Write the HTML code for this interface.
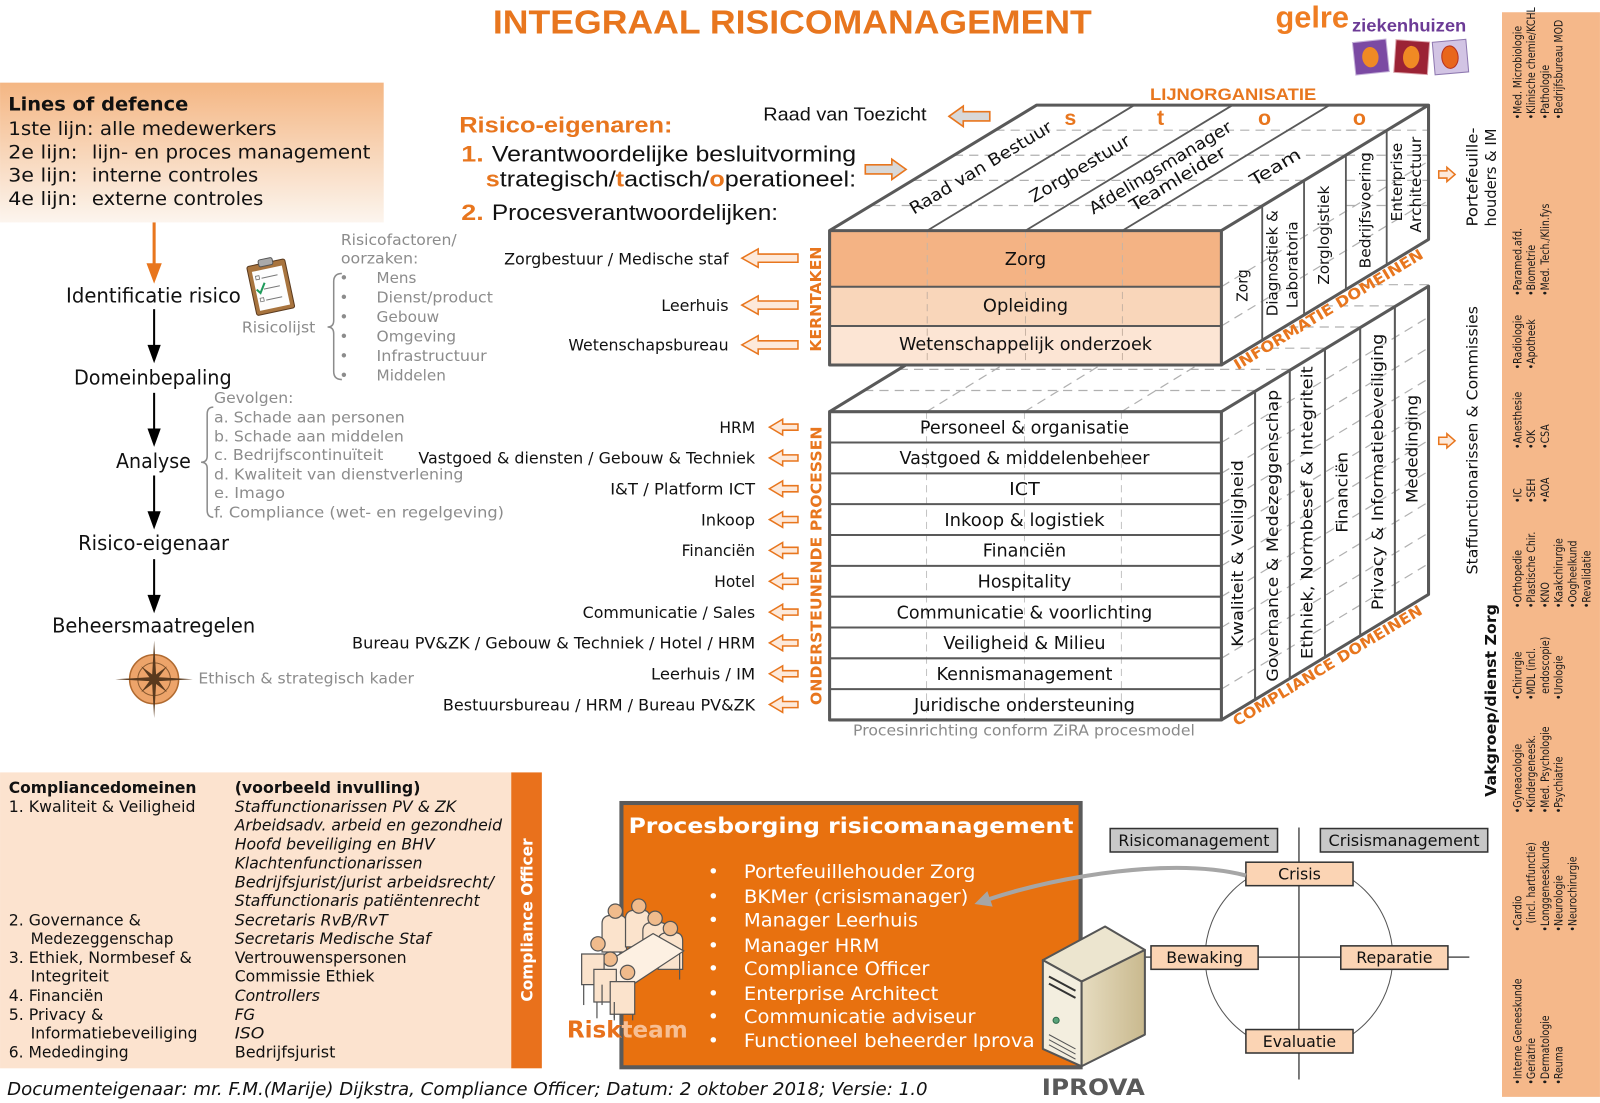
<!DOCTYPE html>
<html><head><meta charset="utf-8">
<style>
html,body{margin:0;padding:0;background:#fff;}
svg{display:block;}
.v{font-family:"DejaVu Sans","Liberation Sans",sans-serif;}
.n{font-family:"Liberation Sans Narrow","Liberation Sans",sans-serif;}
.ls{font-family:"Liberation Sans","DejaVu Sans",sans-serif;}
</style></head><body>
<svg width="1600" height="1103" viewBox="0 0 1568 1081" xmlns="http://www.w3.org/2000/svg">
<defs>
<linearGradient id="lod" x1="0" y1="0" x2="0" y2="1"><stop offset="0" stop-color="#f4b683"/><stop offset="1" stop-color="#fcf5ee"/></linearGradient>
<linearGradient id="srv" x1="0" y1="0" x2="1" y2="0"><stop offset="0" stop-color="#e6dcc0"/><stop offset="1" stop-color="#c9b98e"/></linearGradient>
<clipPath id="boxclip"><rect x="609" y="787" width="450" height="259"/></clipPath>
</defs>

<!-- Title -->
<text x="483" y="33" class="n" font-weight="bold" font-size="33" fill="#e8761e" textLength="587" lengthAdjust="spacingAndGlyphs">INTEGRAAL RISICOMANAGEMENT</text>

<!-- Logo -->
<text x="1250" y="27" class="n" font-weight="bold" font-size="30" fill="#ef7d22" textLength="72" lengthAdjust="spacingAndGlyphs">gelre</text>
<text x="1325" y="31" class="n" font-weight="bold" font-size="17" fill="#6c3b96" textLength="112" lengthAdjust="spacingAndGlyphs">ziekenhuizen</text>
<g transform="rotate(-6 1343 56)"><rect x="1327" y="40" width="33" height="32" fill="#7b4aa3" stroke="#c4b0d8"/><ellipse cx="1343" cy="56" rx="8" ry="10" fill="#f08a24"/></g>
<g transform="rotate(4 1383 56)"><rect x="1367" y="40" width="33" height="32" fill="#9b2335" stroke="#d9a0a8"/><ellipse cx="1383" cy="56" rx="8" ry="11" fill="#f08a24"/></g>
<g transform="rotate(-5 1421 56)"><rect x="1405" y="40" width="33" height="32" fill="#d2c4e4" stroke="#8e78b0"/><ellipse cx="1421" cy="56" rx="8" ry="11" fill="#e8661c" stroke="#b8321c"/></g>

<!-- Lines of defence -->
<rect x="0" y="81" width="376" height="137" fill="url(#lod)"/>
<g class="v" font-size="18.5" fill="#111">
<text x="8" y="108.5" font-weight="bold" textLength="176.5" lengthAdjust="spacingAndGlyphs">Lines of defence</text>
<text x="8" y="132.3" textLength="263" lengthAdjust="spacingAndGlyphs">1ste lijn: alle medewerkers</text>
<text x="8" y="155.2" textLength="68" lengthAdjust="spacingAndGlyphs">2e lijn:</text>
<text x="90" y="155.2" textLength="273" lengthAdjust="spacingAndGlyphs">lijn- en proces management</text>
<text x="8" y="178" textLength="68" lengthAdjust="spacingAndGlyphs">3e lijn:</text>
<text x="90" y="178" textLength="163" lengthAdjust="spacingAndGlyphs">interne controles</text>
<text x="8" y="201" textLength="68" lengthAdjust="spacingAndGlyphs">4e lijn:</text>
<text x="90" y="201" textLength="168" lengthAdjust="spacingAndGlyphs">externe controles</text>
</g>

<!-- Flow arrows -->
<line x1="151" y1="218" x2="151" y2="262" stroke="#e8761e" stroke-width="3"/>
<polygon points="143.5,258 158.5,258 151,278" fill="#e8761e"/>
<g stroke="#000" stroke-width="2">
<line x1="151" y1="303" x2="151" y2="340"/><line x1="151" y1="385" x2="151" y2="422"/>
<line x1="151" y1="466" x2="151" y2="503"/><line x1="151" y1="548" x2="151" y2="585"/>
</g>
<g fill="#000">
<polygon points="144.5,338 157.5,338 151,356"/><polygon points="144.5,420 157.5,420 151,438"/>
<polygon points="144.5,501 157.5,501 151,519"/><polygon points="144.5,583 157.5,583 151,601"/>
</g>
<g class="v" font-size="20" fill="#111">
<text x="64.7" y="296.5" textLength="171.3" lengthAdjust="spacingAndGlyphs">Identificatie risico</text>
<text x="72.5" y="377" textLength="154.5" lengthAdjust="spacingAndGlyphs">Domeinbepaling</text>
<text x="113.7" y="458.6" textLength="73.3" lengthAdjust="spacingAndGlyphs">Analyse</text>
<text x="76.5" y="539" textLength="148" lengthAdjust="spacingAndGlyphs">Risico-eigenaar</text>
<text x="51" y="620" textLength="199" lengthAdjust="spacingAndGlyphs">Beheersmaatregelen</text>
</g>

<!-- clipboard -->
<g transform="rotate(-12 265 280)">
<rect x="246" y="257" width="38" height="49" rx="2" fill="#a8743e" stroke="#5a3a1e"/>
<rect x="250" y="263" width="30" height="39" fill="#fdfdfd"/>
<rect x="258" y="253" width="14" height="7" rx="2" fill="#aaa" stroke="#555"/>
<g stroke="#777" stroke-width="1"><line x1="258" y1="271" x2="274" y2="271"/><line x1="258" y1="282" x2="274" y2="282"/><line x1="258" y1="293" x2="274" y2="293"/></g>
<g fill="none" stroke="#777" stroke-width="0.8"><rect x="252.5" y="268" width="3.5" height="3.5"/><rect x="252.5" y="290" width="3.5" height="3.5"/></g>
<path d="M251,281 l3,4 l6,-9" stroke="#1e9a5a" stroke-width="2" fill="none"/>
</g>

<!-- Risicofactoren -->
<g class="v" font-size="15" fill="#8c8c8c">
<text x="334" y="240" textLength="113.5" lengthAdjust="spacingAndGlyphs">Risicofactoren/</text>
<text x="334" y="258" textLength="76" lengthAdjust="spacingAndGlyphs">oorzaken:</text>
<text x="237" y="326" textLength="72" lengthAdjust="spacingAndGlyphs">Risicolijst</text>
<g text-anchor="middle"><text x="337" y="277.5">•</text><text x="337" y="296.6">•</text><text x="337" y="315.6">•</text><text x="337" y="334.8">•</text><text x="337" y="353.8">•</text><text x="337" y="373">•</text></g>
<text x="369" y="277.5" textLength="39" lengthAdjust="spacingAndGlyphs">Mens</text>
<text x="369" y="296.6" textLength="114" lengthAdjust="spacingAndGlyphs">Dienst/product</text>
<text x="369" y="315.6" textLength="61.4" lengthAdjust="spacingAndGlyphs">Gebouw</text>
<text x="369" y="334.8" textLength="78" lengthAdjust="spacingAndGlyphs">Omgeving</text>
<text x="369" y="353.8" textLength="108" lengthAdjust="spacingAndGlyphs">Infrastructuur</text>
<text x="369" y="373" textLength="68" lengthAdjust="spacingAndGlyphs">Middelen</text>
<text x="209.7" y="395" textLength="77.8" lengthAdjust="spacingAndGlyphs">Gevolgen:</text>
<text x="209.7" y="414" textLength="187" lengthAdjust="spacingAndGlyphs">a. Schade aan personen</text>
<text x="209.7" y="432.5" textLength="186" lengthAdjust="spacingAndGlyphs">b. Schade aan middelen</text>
<text x="209.7" y="451" textLength="166" lengthAdjust="spacingAndGlyphs">c. Bedrijfscontinuïteit</text>
<text x="209.7" y="469.7" textLength="244.4" lengthAdjust="spacingAndGlyphs">d. Kwaliteit van dienstverlening</text>
<text x="209.7" y="488.3" textLength="69.6" lengthAdjust="spacingAndGlyphs">e. Imago</text>
<text x="209.7" y="507" textLength="284.2" lengthAdjust="spacingAndGlyphs">f.  Compliance (wet- en regelgeving)</text>
<text x="194.4" y="670" textLength="211.3" lengthAdjust="spacingAndGlyphs">Ethisch &amp; strategisch kader</text>
</g>
<g fill="none" stroke="#8c8c8c" stroke-width="1.5">
<path d="M335,268 Q327,268 327,276 L327,314 Q327,320.5 321,320.5 Q327,320.5 327,327 L327,364 Q327,372 335,372"/>
<path d="M209,399 Q203,399 203,406 L203,447 Q203,453 197,453 Q203,453 203,459 L203,500 Q203,507 209,507"/>
</g>

<!-- Compass -->
<circle cx="151" cy="665.7" r="24" fill="#eda46a" stroke="#b06a30" stroke-width="1.5"/>
<circle cx="151" cy="665.7" r="16" fill="none" stroke="#8a5a30" stroke-width="1"/>
<polygon fill="#5a3a1e" points="151,627.7 152.9,661.1 163.7,653 155.6,663.8 189,665.7 155.6,667.6 163.7,678.4 152.9,670.3 151,703.7 149.1,670.3 138.3,678.4 146.4,667.6 113,665.7 146.4,663.8 138.3,653 149.1,661.1"/>

<!-- Risico-eigenaren -->
<text x="450" y="130" class="n" font-weight="bold" font-size="22" fill="#e8761e" textLength="209" lengthAdjust="spacingAndGlyphs">Risico-eigenaren:</text>
<text x="452" y="158.4" class="n" font-weight="bold" font-size="22" fill="#e8761e" textLength="22" lengthAdjust="spacingAndGlyphs">1.</text>
<text x="482" y="158.4" class="n" font-size="22" fill="#111" textLength="357" lengthAdjust="spacingAndGlyphs">Verantwoordelijke besluitvorming</text>
<text x="476" y="183" class="n" font-size="22" fill="#111" textLength="363" lengthAdjust="spacingAndGlyphs"><tspan fill="#e8761e" font-weight="bold">s</tspan>trategisch/<tspan fill="#e8761e" font-weight="bold">t</tspan>actisch/<tspan fill="#e8761e" font-weight="bold">o</tspan>perationeel:</text>
<text x="452" y="215.6" class="n" font-weight="bold" font-size="22" fill="#e8761e" textLength="22" lengthAdjust="spacingAndGlyphs">2.</text>
<text x="482" y="215.6" class="n" font-size="22" fill="#111" textLength="280.5" lengthAdjust="spacingAndGlyphs">Procesverantwoordelijken:</text>
<text x="748" y="118.2" class="n" font-size="18" fill="#111" textLength="160" lengthAdjust="spacingAndGlyphs">Raad van Toezicht</text>
<path d="M0,0 l14,-10 v5.5 h26 v9 h-26 v5.5 z" transform="translate(930,114)" fill="#d8d8d8" stroke="#e8761e" stroke-width="1.6"/>
<path d="M0,0 l-14,-10 v5.5 h-26 v9 h26 v5.5 z" transform="translate(888,166)" fill="#d8d8d8" stroke="#e8761e" stroke-width="1.6"/>

<!-- LIJNORGANISATIE -->
<text x="1127" y="98" class="n" font-weight="bold" font-size="16" fill="#e8761e" textLength="163" lengthAdjust="spacingAndGlyphs">LIJNORGANISATIE</text>

<!-- ===== Lower block top face ===== -->
<polygon points="813,403.5 1197,403.5 1400,279 1016,279" fill="#fff"/>
<g stroke="#b0b0b0" stroke-width="1.2" stroke-dasharray="9,6" fill="none">
<line x1="982.2" y1="299.75" x2="1366.2" y2="299.75"/>
<line x1="948.3" y1="320.5" x2="1332.3" y2="320.5"/>
<line x1="914.5" y1="341.25" x2="1298.5" y2="341.25"/>
<line x1="880.7" y1="362" x2="1264.7" y2="362"/>
<line x1="846.8" y1="382.75" x2="1230.8" y2="382.75"/>
<line x1="908" y1="403.5" x2="1111" y2="279"/>
<line x1="1004" y1="403.5" x2="1207" y2="279"/>
<line x1="1099" y1="403.5" x2="1302" y2="279"/>
<line x1="1016" y1="279" x2="1400" y2="279"/>
</g>
<line x1="813" y1="403.5" x2="1016" y2="279" stroke="#595959" stroke-width="3"/>

<!-- ===== Upper block ===== -->
<polygon points="813,226 1197,226 1400,103 1016,103" fill="#fff"/>
<g stroke="#b0b0b0" stroke-width="1.2" stroke-dasharray="9,6">
<line x1="975.4" y1="127.6" x2="1400" y2="127.6"/>
<line x1="934.8" y1="152.2" x2="1400" y2="152.2"/>
<line x1="894.2" y1="176.8" x2="1400" y2="176.8"/>
<line x1="853.6" y1="201.4" x2="1400" y2="201.4"/>
</g>
<g stroke="#595959" stroke-width="1.8">
<line x1="908.7" y1="226" x2="1111.7" y2="103"/>
<line x1="1005" y1="226" x2="1208" y2="103"/>
<line x1="1100" y1="226" x2="1303" y2="103"/>
</g>
<polygon points="1197,226 1400,103 1400,234.7 1197,357.7" fill="#fff"/>
<g stroke="#b0b0b0" stroke-width="1.2" stroke-dasharray="9,6">
<line x1="1197" y1="281" x2="1400" y2="158"/>
<line x1="1197" y1="319.5" x2="1400" y2="196.5"/>
<line x1="1319" y1="127.6" x2="1400" y2="127.6"/>
<line x1="1319" y1="152.2" x2="1400" y2="152.2"/>
<line x1="1319" y1="176.8" x2="1400" y2="176.8"/>
<line x1="1319" y1="201.4" x2="1400" y2="201.4"/>
</g>
<g stroke="#595959" stroke-width="1.8">
<line x1="1237" y1="201.8" x2="1237" y2="333.5"/>
<line x1="1278" y1="176.9" x2="1278" y2="308.6"/>
<line x1="1319" y1="152" x2="1319" y2="283.8"/>
<line x1="1359" y1="127.8" x2="1359" y2="259.5"/>
</g>
<rect x="813" y="226" width="384" height="55" fill="#f4b384"/>
<rect x="813" y="281" width="384" height="38.5" fill="#f9d6ba"/>
<rect x="813" y="319.5" width="384" height="38.2" fill="#fce5d4"/>
<g stroke="#c8b4a4" stroke-width="1" stroke-dasharray="7,5">
<line x1="908.7" y1="226" x2="908.7" y2="357.7"/><line x1="1005" y1="226" x2="1005" y2="357.7"/><line x1="1100" y1="226" x2="1100" y2="357.7"/>
</g>
<g stroke="#595959" stroke-width="2"><line x1="813" y1="281" x2="1197" y2="281"/><line x1="813" y1="319.5" x2="1197" y2="319.5"/></g>
<g fill="none" stroke="#595959" stroke-width="3" stroke-linejoin="round">
<rect x="813" y="226" width="384" height="131.7"/>
<polyline points="813,226 1016,103 1400,103 1197,226"/>
<polyline points="1400,103 1400,234.7 1197,357.7"/>
</g>
<g class="v" font-size="17.5" fill="#111" text-anchor="middle">
<text x="1005" y="259.7">Zorg</text>
<text x="1005" y="305.4">Opleiding</text>
<text x="1005" y="343" textLength="248" lengthAdjust="spacingAndGlyphs">Wetenschappelijk onderzoek</text>
</g>
<g class="v" font-size="16.5" fill="#111" text-anchor="middle">
<text transform="translate(964,169) rotate(-31.2)" textLength="160" lengthAdjust="spacingAndGlyphs">Raad van Bestuur</text>
<text transform="translate(1061,170) rotate(-31.2)" textLength="112" lengthAdjust="spacingAndGlyphs">Zorgbestuur</text>
<text transform="translate(1140,169) rotate(-31.2)" textLength="160" lengthAdjust="spacingAndGlyphs">Afdelingsmanager</text>
<text transform="translate(1157,180) rotate(-31.2)" textLength="107" lengthAdjust="spacingAndGlyphs">Teamleider</text>
<text transform="translate(1252.6,168.5) rotate(-31.2)" textLength="55" lengthAdjust="spacingAndGlyphs">Team</text>
</g>
<g class="n" font-size="21" font-weight="bold" fill="#e8761e" text-anchor="middle">
<text x="1049" y="122.5">s</text><text x="1137.4" y="122.5">t</text><text x="1239.3" y="122.5">o</text><text x="1332.3" y="122.5">o</text>
</g>
<g class="v" font-size="14.5" fill="#111">
<text transform="translate(1222.6,295.7) rotate(-90)" textLength="31.7" lengthAdjust="spacingAndGlyphs">Zorg</text>
<text transform="translate(1252,310) rotate(-90)" textLength="104" lengthAdjust="spacingAndGlyphs">Diagnostiek &amp;</text>
<text transform="translate(1271.4,302) rotate(-90)" textLength="85" lengthAdjust="spacingAndGlyphs">Laboratoria</text>
<text transform="translate(1302.4,279) rotate(-90)" textLength="97" lengthAdjust="spacingAndGlyphs">Zorglogistiek</text>
<text transform="translate(1343,263) rotate(-90)" textLength="114" lengthAdjust="spacingAndGlyphs">Bedrijfsvoering</text>
<text transform="translate(1374,217) rotate(-90)" textLength="77" lengthAdjust="spacingAndGlyphs">Enterprise</text>
<text transform="translate(1392.5,228) rotate(-90)" textLength="94" lengthAdjust="spacingAndGlyphs">Architectuur</text>
</g>

<!-- ===== Lower block ===== -->
<rect x="813" y="403.5" width="384" height="302.1" fill="#fff"/>
<polygon points="1197,403.5 1400,280.5 1400,582.6 1197,705.6" fill="#fff"/>
<g stroke="#c4c4c4" stroke-width="1" stroke-dasharray="7,5">
<line x1="908" y1="403.5" x2="908" y2="705.6"/><line x1="1004" y1="403.5" x2="1004" y2="705.6"/><line x1="1099" y1="403.5" x2="1099" y2="705.6"/>
</g>
<g stroke="#b0b0b0" stroke-width="1.2" stroke-dasharray="9,6">
<line x1="1197" y1="433.7" x2="1400" y2="310.7"/><line x1="1197" y1="463.9" x2="1400" y2="340.9"/>
<line x1="1197" y1="494.1" x2="1400" y2="371.1"/><line x1="1197" y1="524.3" x2="1400" y2="401.3"/>
<line x1="1197" y1="554.6" x2="1400" y2="431.6"/><line x1="1197" y1="584.8" x2="1400" y2="461.8"/>
<line x1="1197" y1="615" x2="1400" y2="492"/><line x1="1197" y1="645.2" x2="1400" y2="522.2"/>
<line x1="1197" y1="675.4" x2="1400" y2="552.4"/>
</g>
<g stroke="#595959" stroke-width="2">
<line x1="813" y1="433.7" x2="1197" y2="433.7"/><line x1="813" y1="463.9" x2="1197" y2="463.9"/>
<line x1="813" y1="494.1" x2="1197" y2="494.1"/><line x1="813" y1="524.3" x2="1197" y2="524.3"/>
<line x1="813" y1="554.6" x2="1197" y2="554.6"/><line x1="813" y1="584.8" x2="1197" y2="584.8"/>
<line x1="813" y1="615" x2="1197" y2="615"/><line x1="813" y1="645.2" x2="1197" y2="645.2"/>
<line x1="813" y1="675.4" x2="1197" y2="675.4"/>
<line x1="1230" y1="383.5" x2="1230" y2="685.6"/><line x1="1264" y1="362.9" x2="1264" y2="665"/>
<line x1="1298.5" y1="342" x2="1298.5" y2="644.1"/><line x1="1333" y1="321.1" x2="1333" y2="623.2"/>
<line x1="1367" y1="300.5" x2="1367" y2="602.6"/>
</g>
<g fill="none" stroke="#595959" stroke-width="3" stroke-linejoin="round">
<rect x="813" y="403.5" width="384" height="302.1"/>
<polyline points="1197,403.5 1400,280.5 1400,582.6 1197,705.6"/>
</g>
<g class="v" font-size="17" fill="#111" text-anchor="middle">
<text x="1004" y="424.7" textLength="205" lengthAdjust="spacingAndGlyphs">Personeel &amp; organisatie</text>
<text x="1004" y="454.9" textLength="245" lengthAdjust="spacingAndGlyphs">Vastgoed &amp; middelenbeheer</text>
<text x="1004" y="485.1" textLength="30" lengthAdjust="spacingAndGlyphs">ICT</text>
<text x="1004" y="515.3" textLength="157" lengthAdjust="spacingAndGlyphs">Inkoop &amp; logistiek</text>
<text x="1004" y="545.5" textLength="81.7" lengthAdjust="spacingAndGlyphs">Financiën</text>
<text x="1004" y="575.8" textLength="91.8" lengthAdjust="spacingAndGlyphs">Hospitality</text>
<text x="1004" y="606" textLength="250.6" lengthAdjust="spacingAndGlyphs">Communicatie &amp; voorlichting</text>
<text x="1004" y="636.2" textLength="159" lengthAdjust="spacingAndGlyphs">Veiligheid &amp; Milieu</text>
<text x="1004" y="666.4" textLength="172.4" lengthAdjust="spacingAndGlyphs">Kennismanagement</text>
<text x="1004" y="696.6" textLength="216.6" lengthAdjust="spacingAndGlyphs">Juridische ondersteuning</text>
</g>
<g class="v" font-size="15.5" fill="#111">
<text transform="translate(1218.4,634) rotate(-90)" textLength="183" lengthAdjust="spacingAndGlyphs">Kwaliteit &amp; Veiligheid</text>
<text transform="translate(1252.4,668) rotate(-90)" textLength="286" lengthAdjust="spacingAndGlyphs">Governance &amp; Medezeggenschap</text>
<text transform="translate(1286.4,646) rotate(-90)" textLength="287" lengthAdjust="spacingAndGlyphs">Ethhiek, Normbesef &amp; Integriteit</text>
<text transform="translate(1320.4,522) rotate(-90)" textLength="79" lengthAdjust="spacingAndGlyphs">Financiën</text>
<text transform="translate(1355.4,598) rotate(-90)" textLength="271" lengthAdjust="spacingAndGlyphs">Privacy &amp; Informatiebeveiliging</text>
<text transform="translate(1389.4,493) rotate(-90)" textLength="106" lengthAdjust="spacingAndGlyphs">Mededinging</text>
</g>
<g class="v" font-weight="bold" font-size="14.5" fill="#e8761e">
<text transform="translate(1213,363) rotate(-31.2)" textLength="214" lengthAdjust="spacingAndGlyphs">INFORMATIE DOMEINEN</text>
<text transform="translate(1212,712) rotate(-31.2)" textLength="214" lengthAdjust="spacingAndGlyphs">COMPLIANCE DOMEINEN</text>
<text transform="translate(804.7,344.6) rotate(-90)" textLength="103" lengthAdjust="spacingAndGlyphs">KERNTAKEN</text>
<text transform="translate(805.3,691) rotate(-90)" textLength="273" lengthAdjust="spacingAndGlyphs">ONDERSTEUNENDE PROCESSEN</text>
</g>
<text x="836" y="721" class="v" font-size="14.5" fill="#8a8a8a" textLength="335" lengthAdjust="spacingAndGlyphs">Procesinrichting conform ZiRA procesmodel</text>

<!-- Left labels & arrows -->
<g fill="#fde9da" stroke="#e8761e" stroke-width="1.5">
<path d="M0,0 l16,-9 v5 h39 v8 h-39 v5 z" transform="translate(727,253)"/>
<path d="M0,0 l16,-9 v5 h39 v8 h-39 v5 z" transform="translate(727,299)"/>
<path d="M0,0 l16,-9 v5 h39 v8 h-39 v5 z" transform="translate(727,338)"/>
<path d="M0,0 l13,-7.7 v4.7 h15 v6 h-15 v4.7 z" transform="translate(754,418.6)"/>
<path d="M0,0 l13,-7.7 v4.7 h15 v6 h-15 v4.7 z" transform="translate(754,448.8)"/>
<path d="M0,0 l13,-7.7 v4.7 h15 v6 h-15 v4.7 z" transform="translate(754,479)"/>
<path d="M0,0 l13,-7.7 v4.7 h15 v6 h-15 v4.7 z" transform="translate(754,509.2)"/>
<path d="M0,0 l13,-7.7 v4.7 h15 v6 h-15 v4.7 z" transform="translate(754,539.4)"/>
<path d="M0,0 l13,-7.7 v4.7 h15 v6 h-15 v4.7 z" transform="translate(754,569.7)"/>
<path d="M0,0 l13,-7.7 v4.7 h15 v6 h-15 v4.7 z" transform="translate(754,599.9)"/>
<path d="M0,0 l13,-7.7 v4.7 h15 v6 h-15 v4.7 z" transform="translate(754,630.1)"/>
<path d="M0,0 l13,-7.7 v4.7 h15 v6 h-15 v4.7 z" transform="translate(754,660.3)"/>
<path d="M0,0 l13,-7.7 v4.7 h15 v6 h-15 v4.7 z" transform="translate(754,690.5)"/>
<path d="M0,0 l-8,-7 v3.5 h-8 v7 h8 v3.5 z" transform="translate(1426,171)"/>
<path d="M0,0 l-8,-7 v3.5 h-8 v7 h8 v3.5 z" transform="translate(1426,432)"/>
</g>
<g class="v" font-size="15.5" fill="#111" text-anchor="end">
<text x="714" y="259" textLength="220" lengthAdjust="spacingAndGlyphs">Zorgbestuur / Medische staf</text>
<text x="714" y="305" textLength="66" lengthAdjust="spacingAndGlyphs">Leerhuis</text>
<text x="714" y="343.5" textLength="157" lengthAdjust="spacingAndGlyphs">Wetenschapsbureau</text>
<text x="740" y="424.2" textLength="35" lengthAdjust="spacingAndGlyphs">HRM</text>
<text x="740" y="454.4" textLength="330" lengthAdjust="spacingAndGlyphs">Vastgoed &amp; diensten / Gebouw &amp; Techniek</text>
<text x="740" y="484.6" textLength="142" lengthAdjust="spacingAndGlyphs">I&amp;T / Platform ICT</text>
<text x="740" y="514.8" textLength="53" lengthAdjust="spacingAndGlyphs">Inkoop</text>
<text x="740" y="545" textLength="72" lengthAdjust="spacingAndGlyphs">Financiën</text>
<text x="740" y="575.3" textLength="40" lengthAdjust="spacingAndGlyphs">Hotel</text>
<text x="740" y="605.5" textLength="169" lengthAdjust="spacingAndGlyphs">Communicatie / Sales</text>
<text x="740" y="635.7" textLength="395" lengthAdjust="spacingAndGlyphs">Bureau PV&amp;ZK / Gebouw &amp; Techniek / Hotel / HRM</text>
<text x="740" y="665.9" textLength="102" lengthAdjust="spacingAndGlyphs">Leerhuis / IM</text>
<text x="740" y="696.1" textLength="306" lengthAdjust="spacingAndGlyphs">Bestuursbureau / HRM / Bureau PV&amp;ZK</text>
</g>

<!-- Right side labels -->
<g class="v" font-size="15" fill="#111">
<text transform="translate(1448.2,222) rotate(-90)" textLength="97" lengthAdjust="spacingAndGlyphs">Portefeuille-</text>
<text transform="translate(1466.2,222) rotate(-90)" textLength="96" lengthAdjust="spacingAndGlyphs">houders &amp; IM</text>
<text transform="translate(1448.2,563) rotate(-90)" textLength="263" lengthAdjust="spacingAndGlyphs">Staffunctionarissen &amp; Commissies</text>
<text transform="translate(1466.2,781) rotate(-90)" font-weight="bold" textLength="189" lengthAdjust="spacingAndGlyphs">Vakgroep/dienst Zorg</text>
</g>

<!-- Right orange panel -->
<rect x="1472" y="12" width="96" height="1063" fill="#f5b88a"/>
<g class="v" font-size="11.5" fill="#1a1a1a">
<text transform="translate(1491,117) rotate(-90) scale(0.8,1)">•Med. Microbiologie</text>
<text transform="translate(1504.5,117) rotate(-90) scale(0.8,1)">•Klinische chemie/KCHL</text>
<text transform="translate(1518,117) rotate(-90) scale(0.8,1)">•Pathologie</text>
<text transform="translate(1531.5,117) rotate(-90) scale(0.8,1)">•Bedrijfsbureau MOD</text>
<text transform="translate(1491,290) rotate(-90) scale(0.8,1)">•Paramed.afd.</text>
<text transform="translate(1504.5,290) rotate(-90) scale(0.8,1)">•Biometrie</text>
<text transform="translate(1518,290) rotate(-90) scale(0.8,1)">•Med. Tech./Klin.fys</text>
<text transform="translate(1491,362) rotate(-90) scale(0.8,1)">•Radiologie</text>
<text transform="translate(1504.5,362) rotate(-90) scale(0.8,1)">•Apotheek</text>
<text transform="translate(1491,440) rotate(-90) scale(0.8,1)">•Anesthesie</text>
<text transform="translate(1504.5,440) rotate(-90) scale(0.8,1)">•OK</text>
<text transform="translate(1518,440) rotate(-90) scale(0.8,1)">•CSA</text>
<text transform="translate(1491,493) rotate(-90) scale(0.8,1)">•IC</text>
<text transform="translate(1504.5,493) rotate(-90) scale(0.8,1)">•SEH</text>
<text transform="translate(1518,493) rotate(-90) scale(0.8,1)">•AOA</text>
<text transform="translate(1491,596) rotate(-90) scale(0.8,1)">•Orthopedie</text>
<text transform="translate(1504.5,596) rotate(-90) scale(0.8,1)">•Plastische Chir.</text>
<text transform="translate(1518,596) rotate(-90) scale(0.8,1)">•KNO</text>
<text transform="translate(1531.5,596) rotate(-90) scale(0.8,1)">•Kaakchirurgie</text>
<text transform="translate(1545,596) rotate(-90) scale(0.8,1)">•Oogheelkund</text>
<text transform="translate(1558.5,596) rotate(-90) scale(0.8,1)">•Revalidatie</text>
<text transform="translate(1491,686) rotate(-90) scale(0.8,1)">•Chirurgie</text>
<text transform="translate(1504.5,686) rotate(-90) scale(0.8,1)">•MDL (incl.</text>
<text transform="translate(1518,680) rotate(-90) scale(0.8,1)">endoscopie)</text>
<text transform="translate(1531.5,686) rotate(-90) scale(0.8,1)">•Urologie</text>
<text transform="translate(1491,797) rotate(-90) scale(0.8,1)">•Gyneacologie</text>
<text transform="translate(1504.5,797) rotate(-90) scale(0.8,1)">•Kindergeneesk.</text>
<text transform="translate(1518,797) rotate(-90) scale(0.8,1)">•Med. Psychologie</text>
<text transform="translate(1531.5,797) rotate(-90) scale(0.8,1)">•Psychiatrie</text>
<text transform="translate(1491,913) rotate(-90) scale(0.8,1)">•Cardio</text>
<text transform="translate(1504.5,905) rotate(-90) scale(0.8,1)">(incl. hartfunctie)</text>
<text transform="translate(1518,913) rotate(-90) scale(0.8,1)">•Longgeneeskunde</text>
<text transform="translate(1531.5,913) rotate(-90) scale(0.8,1)">•Neurologie</text>
<text transform="translate(1545,913) rotate(-90) scale(0.8,1)">•Neurochirurgie</text>
<text transform="translate(1491,1063) rotate(-90) scale(0.8,1)">•Interne Geneeskunde</text>
<text transform="translate(1504.5,1063) rotate(-90) scale(0.8,1)">•Geriatrie</text>
<text transform="translate(1518,1063) rotate(-90) scale(0.8,1)">•Dermatologie</text>
<text transform="translate(1531.5,1063) rotate(-90) scale(0.8,1)">•Reuma</text>
</g>

<!-- Compliance box -->
<rect x="0" y="757" width="501" height="290" fill="#fce3cf"/>
<rect x="501" y="757" width="30" height="290" fill="#e9711c"/>
<text transform="translate(521.6,981.6) rotate(-90)" class="v" font-weight="bold" font-size="16" fill="#fff" textLength="160" lengthAdjust="spacingAndGlyphs">Compliance Officer</text>
<g class="v" font-size="15.5" fill="#111">
<text x="8.5" y="777" font-weight="bold" textLength="184" lengthAdjust="spacingAndGlyphs">Compliancedomeinen</text>
<text x="230" y="777" font-weight="bold" textLength="182" lengthAdjust="spacingAndGlyphs">(voorbeeld invulling)</text>
<text x="8.5" y="795.6" textLength="183" lengthAdjust="spacingAndGlyphs">1. Kwaliteit &amp; Veiligheid</text>
<text x="8.5" y="906.8" textLength="129.5" lengthAdjust="spacingAndGlyphs">2. Governance &amp;</text>
<text x="30" y="925" textLength="140" lengthAdjust="spacingAndGlyphs">Medezeggenschap</text>
<text x="8.5" y="943.9" textLength="179.5" lengthAdjust="spacingAndGlyphs">3. Ethiek, Normbesef &amp;</text>
<text x="30" y="962" textLength="76.6" lengthAdjust="spacingAndGlyphs">Integriteit</text>
<text x="8.5" y="981" textLength="92.7" lengthAdjust="spacingAndGlyphs">4. Financiën</text>
<text x="8.5" y="999.6" textLength="92.7" lengthAdjust="spacingAndGlyphs">5. Privacy &amp;</text>
<text x="30" y="1018" textLength="163.5" lengthAdjust="spacingAndGlyphs">Informatiebeveiliging</text>
<text x="8.5" y="1036.6" textLength="117.5" lengthAdjust="spacingAndGlyphs">6. Mededinging</text>
<g font-style="italic">
<text x="230" y="795.6" textLength="217" lengthAdjust="spacingAndGlyphs">Staffunctionarissen PV &amp; ZK</text>
<text x="230" y="814" textLength="262" lengthAdjust="spacingAndGlyphs">Arbeidsadv. arbeid en gezondheid</text>
<text x="230" y="832.7" textLength="196" lengthAdjust="spacingAndGlyphs">Hoofd beveiliging en BHV</text>
<text x="230" y="851" textLength="184" lengthAdjust="spacingAndGlyphs">Klachtenfunctionarissen</text>
<text x="230" y="869.7" textLength="254" lengthAdjust="spacingAndGlyphs">Bedrijfsjurist/jurist arbeidsrecht/</text>
<text x="230" y="888" textLength="240" lengthAdjust="spacingAndGlyphs">Staffunctionaris patiëntenrecht</text>
<text x="230" y="906.8" textLength="150" lengthAdjust="spacingAndGlyphs">Secretaris RvB/RvT</text>
<text x="230" y="925" textLength="192" lengthAdjust="spacingAndGlyphs">Secretaris Medische Staf</text>
<text x="230" y="981" textLength="83.4" lengthAdjust="spacingAndGlyphs">Controllers</text>
<text x="230" y="999.6" textLength="20" lengthAdjust="spacingAndGlyphs">FG</text>
<text x="230" y="1018" textLength="29" lengthAdjust="spacingAndGlyphs">ISO</text>
</g>
<text x="230" y="943.9" textLength="168.5" lengthAdjust="spacingAndGlyphs">Vertrouwenspersonen</text>
<text x="230" y="962" textLength="137" lengthAdjust="spacingAndGlyphs">Commissie Ethiek</text>
<text x="230" y="1036.6" textLength="98.7" lengthAdjust="spacingAndGlyphs">Bedrijfsjurist</text>
</g>

<!-- Footer -->
<text x="7" y="1073" class="v" font-style="italic" font-size="17" fill="#111" textLength="902" lengthAdjust="spacingAndGlyphs">Documenteigenaar: mr. F.M.(Marije) Dijkstra, Compliance Officer; Datum: 2 oktober 2018; Versie: 1.0</text>

<!-- Procesborging box -->
<rect x="609" y="787" width="450" height="259" fill="#e8710f" stroke="#5a5a5a" stroke-width="4"/>
<text x="616" y="816.6" class="v" font-weight="bold" font-size="21" fill="#fff" textLength="436" lengthAdjust="spacingAndGlyphs">Procesborging risicomanagement</text>
<g class="v" font-size="18.5" fill="#fff">
<g text-anchor="middle">
<text x="699" y="860.7">•</text><text x="699" y="885">•</text><text x="699" y="908">•</text><text x="699" y="933">•</text>
<text x="699" y="955.6">•</text><text x="699" y="980">•</text><text x="699" y="1002.6">•</text><text x="699" y="1026">•</text>
</g>
<text x="729" y="860.7" textLength="227" lengthAdjust="spacingAndGlyphs">Portefeuillehouder Zorg</text>
<text x="729" y="885" textLength="220" lengthAdjust="spacingAndGlyphs">BKMer (crisismanager)</text>
<text x="729" y="908" textLength="170.7" lengthAdjust="spacingAndGlyphs">Manager Leerhuis</text>
<text x="729" y="933" textLength="132.8" lengthAdjust="spacingAndGlyphs">Manager HRM</text>
<text x="729" y="955.6" textLength="181.8" lengthAdjust="spacingAndGlyphs">Compliance Officer</text>
<text x="729" y="980" textLength="190.5" lengthAdjust="spacingAndGlyphs">Enterprise Architect</text>
<text x="729" y="1002.6" textLength="227" lengthAdjust="spacingAndGlyphs">Communicatie adviseur</text>
<text x="729" y="1026" textLength="285" lengthAdjust="spacingAndGlyphs">Functioneel beheerder Iprova</text>
</g>

<!-- Riskteam icon -->
<g stroke="#555" stroke-width="1.2">
<g fill="#fbe3cc">
<path d="M590,905 q0,-8 10,-8 h6 q8,0 8,8 v28 h-24 z"/>
<path d="M613,900 q0,-8 10,-8 h6 q8,0 8,8 v28 h-24 z"/>
<path d="M630,912 q0,-8 10,-8 h6 q8,0 8,8 v28 h-24 z"/>
<path d="M645,922 q0,-8 10,-8 h6 q8,0 8,8 v28 h-24 z"/>
</g>
<g fill="#f0bb8c">
<circle cx="603" cy="893" r="7"/><circle cx="626" cy="888" r="7"/><circle cx="642" cy="900" r="7"/><circle cx="657" cy="910" r="7"/>
</g>
<polygon points="575,955 640,915 670,932 605,975" fill="#fdf0e2"/>
<g fill="#f0bb8c"><circle cx="586" cy="925" r="7"/><circle cx="598" cy="940" r="7"/><circle cx="615" cy="953" r="7"/></g>
<g fill="#fbe3cc">
<path d="M570,935 h22 v30 h-22 z"/><path d="M582,950 h22 v32 h-22 z"/><path d="M598,962 h24 v32 h-24 z"/>
</g>
<g fill="none"><line x1="572" y1="965" x2="572" y2="985"/><line x1="590" y1="965" x2="590" y2="985"/><line x1="585" y1="982" x2="585" y2="998"/><line x1="602" y1="982" x2="602" y2="998"/><line x1="602" y1="994" x2="602" y2="1000"/><line x1="620" y1="994" x2="620" y2="1000"/><line x1="666" y1="934" x2="666" y2="960"/></g>
</g>
<text x="555.5" y="1017" class="v" font-weight="bold" font-size="22.5" fill="#e8711c" textLength="118.5" lengthAdjust="spacingAndGlyphs">Riskteam</text>
<g clip-path="url(#boxclip)"><text x="555.5" y="1017" class="v" font-weight="bold" font-size="22.5" fill="#f7bf94" textLength="118.5" lengthAdjust="spacingAndGlyphs">Riskteam</text></g>

<!-- Cycle diagram -->
<line x1="1273" y1="811" x2="1273" y2="1058" stroke="#555" stroke-width="1.5"/>
<line x1="1122" y1="938" x2="1440" y2="938" stroke="#555" stroke-width="1.5"/>
<circle cx="1273" cy="938" r="92" fill="none" stroke="#555" stroke-width="1"/>
<g stroke="#333" stroke-width="1.5">
<rect x="1088" y="812" width="164" height="23" fill="#c8c8c8"/>
<rect x="1294" y="812" width="164" height="23" fill="#c8c8c8"/>
<rect x="1221" y="845" width="105" height="23" fill="#fbd4b4"/>
<rect x="1128" y="927" width="105" height="23" fill="#fbd4b4"/>
<rect x="1314" y="927" width="105" height="23" fill="#fbd4b4"/>
<rect x="1221" y="1009" width="105" height="23" fill="#fbd4b4"/>
</g>
<g class="v" font-size="15.5" fill="#111" text-anchor="middle">
<text x="1170" y="829" textLength="148" lengthAdjust="spacingAndGlyphs">Risicomanagement</text>
<text x="1376" y="829" textLength="148" lengthAdjust="spacingAndGlyphs">Crisismanagement</text>
<text x="1273.5" y="862">Crisis</text>
<text x="1180.5" y="944">Bewaking</text>
<text x="1366.5" y="944">Reparatie</text>
<text x="1273.5" y="1026">Evaluatie</text>
</g>
<path d="M1221,858 C1150,840 1040,858 970,881" stroke="#a6a6a6" stroke-width="4" fill="none"/>
<polygon points="955,886 967.6,873.3 972.8,888.5" fill="#a6a6a6"/>

<!-- Server -->
<g stroke="#555" stroke-width="2" stroke-linejoin="round">
<polygon points="1022,941 1083,908 1122,931 1060,962" fill="#ece5cf"/>
<polygon points="1022,941 1060,962 1060,1045 1022,1028" fill="#f3eedf"/>
<polygon points="1060,962 1122,931 1122,1014 1060,1045" fill="url(#srv)"/>
</g>
<g stroke="#333" stroke-width="2"><line x1="1028" y1="957" x2="1054" y2="971"/><line x1="1028" y1="964" x2="1054" y2="978"/></g>
<g stroke="#555" stroke-width="1"><line x1="1028" y1="1014" x2="1054" y2="1028"/><line x1="1028" y1="1019" x2="1054" y2="1033"/><line x1="1028" y1="1024" x2="1054" y2="1038"/></g>
<circle cx="1035" cy="1000" r="3" fill="#5aa37a" stroke="#2d6a48"/>
<text x="1021" y="1073" class="v" font-weight="bold" font-size="22" fill="#595959" textLength="101" lengthAdjust="spacingAndGlyphs">IPROVA</text>
</svg>
</body></html>
